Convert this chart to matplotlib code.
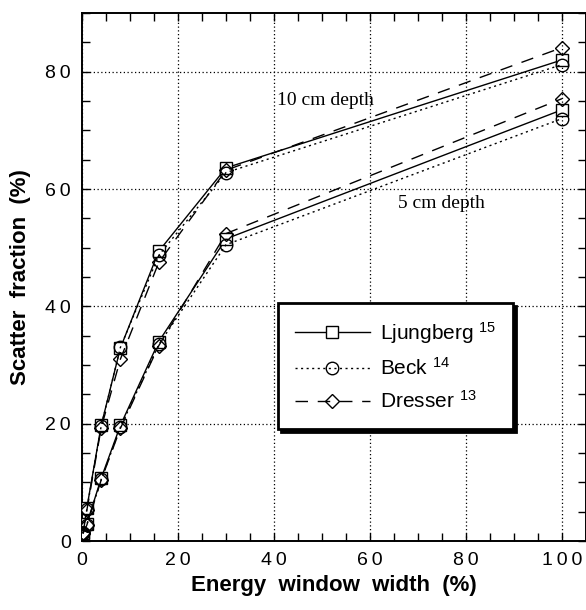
import matplotlib
matplotlib.use("Agg")
import matplotlib.pyplot as plt
from matplotlib.lines import Line2D
from matplotlib.ticker import MultipleLocator, FuncFormatter

plt.rcParams['font.family'] = ['Liberation Sans', 'DejaVu Sans']
plt.rcParams['mathtext.default'] = 'regular'

# Energy window width (%)
window = [0.2, 1, 4, 8, 16, 30, 100]

# 10 cm depth
ljung_10 = [1.3, 5.6, 19.7, 32.9, 49.4, 63.6, 82.0]
beck_10 = [1.3, 5.4, 19.6, 33.0, 48.7, 62.8, 81.2]
dresser_10 = [1.3, 5.2, 19.3, 31.0, 47.5, 63.2, 84.1]

# 5 cm depth
ljung_5 = [1.3, 2.9, 10.7, 19.7, 34.0, 51.5, 73.5]
beck_5 = [1.3, 2.8, 10.5, 19.4, 33.5, 50.5, 72.0]
dresser_5 = [1.3, 2.7, 10.4, 19.2, 33.3, 52.4, 75.4]

labels = ['Ljungberg $^{15}$', 'Beck $^{14}$', 'Dresser $^{13}$']

fig = plt.figure(figsize=(5.86, 6.10), dpi=100)
ax = fig.add_axes([82 / 586, 69 / 610, 504 / 586, 528 / 610])

solid = dict(color='k', lw=1.0, ls='-', marker='s', ms=9, mfc='white', mec='k', mew=1.0)
dotted = dict(color='k', lw=1.0, ls=(0, (1.5, 2.5)), marker='o', ms=9, mfc='none', mec='k', mew=1.0)
dashed = dict(color='k', lw=1.0, ls=(0, (9, 7)), marker='D', ms=7, mfc='none', mec='k', mew=1.0)

for ys in (ljung_10, ljung_5):
    ax.plot(window, ys, zorder=3, **solid)
for ys in (beck_10, beck_5):
    ax.plot(window, ys, zorder=4, **dotted)
for ys in (dresser_10, dresser_5):
    ax.plot(window, ys, zorder=5, **dashed)

ax.text(40.6, 75.0, '10 cm depth', family='Liberation Serif', fontsize=14, va='center')
ax.text(65.8, 57.6, '5 cm depth', family='Liberation Serif', fontsize=14, va='center')

# wide letter spacing of the tick numbers, as in the original
spaced = FuncFormatter(lambda v, p: '\u2009'.join(str(int(v))))

ax.set_xlim(0, 105)
ax.set_ylim(0, 90)
ax.xaxis.set_major_locator(MultipleLocator(20))
ax.xaxis.set_minor_locator(MultipleLocator(5))
ax.yaxis.set_major_locator(MultipleLocator(20))
ax.yaxis.set_minor_locator(MultipleLocator(5))
ax.xaxis.set_major_formatter(spaced)
ax.yaxis.set_major_formatter(spaced)
ax.tick_params(which='both', direction='in', top=True, right=True, length=6, width=1)
ax.tick_params(which='major', labelsize=14, pad=8)
ax.grid(True, which='major', color='k', ls=(0, (1, 2)), lw=0.9)
for s in ax.spines.values():
    s.set_linewidth(1.4)

ax.set_xlabel('Energy  window  width  (%)', fontsize=16, fontweight='bold', labelpad=4)
ax.set_ylabel('Scatter  fraction  (%)', fontsize=16, fontweight='bold', labelpad=10)

handles = [
    Line2D([], [], **solid),
    Line2D([], [], **dotted),
    Line2D([], [], **dashed),
]
leg = ax.legend(handles, labels, loc='upper left', bbox_to_anchor=(196 / 504, (541 - 303) / 528),
                borderaxespad=0, fontsize=15, frameon=True, fancybox=False, handlelength=3.6,
                handletextpad=0.5, labelspacing=0.55, borderpad=0.8,
                shadow={'color': 'k', 'alpha': 1})
leg.get_frame().set_edgecolor('k')
leg.get_frame().set_linewidth(2)
leg.set_zorder(10)

fig.savefig('out.png', dpi=100)
